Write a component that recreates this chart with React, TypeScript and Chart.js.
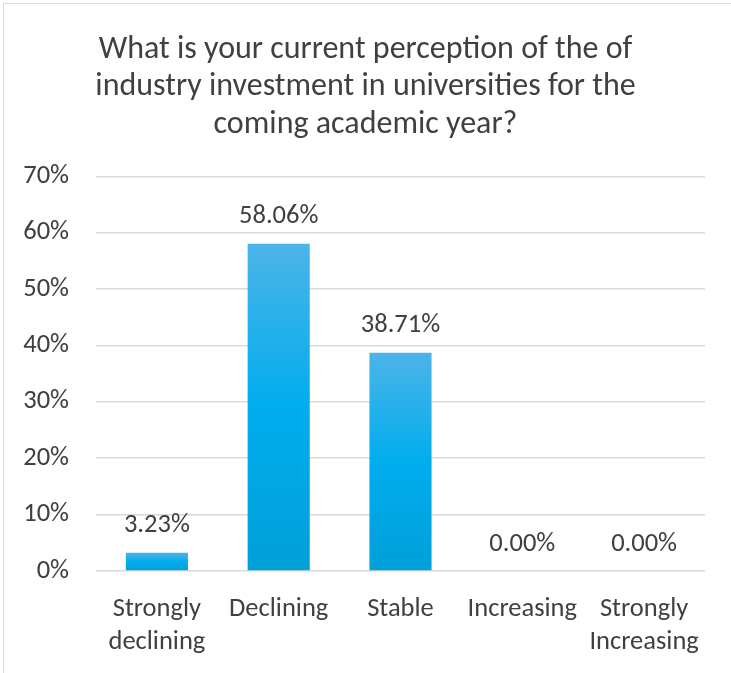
import React, { useEffect, useRef } from "react";
import { Chart, registerables } from "chart.js";

Chart.register(...registerables);

const categories: string[][] = [
  ["Strongly", "declining"],
  ["Declining"],
  ["Stable"],
  ["Increasing"],
  ["Strongly", "Increasing"],
];
const values: number[] = [3.23, 58.06, 38.71, 0.0, 0.0];
const titleLines: string[] = [
  "What is your current perception of the of",
  "industry investment in universities for the",
  "coming academic year?",
];
const yMax = 70;
const yStep = 10;

const FONT = "Calibri, Carlito, Lato, 'Open Sans', sans-serif";
const TEXT = "#404040";
const LABEL_SIZE = 26.5;

const dataLabelPlugin = {
  id: "dataLabels",
  afterDatasetsDraw(chart: any) {
    const ctx = chart.ctx;
    const meta = chart.getDatasetMeta(0);
    ctx.save();
    ctx.font = `${LABEL_SIZE}px ${FONT}`;
    ctx.fillStyle = TEXT;
    ctx.textAlign = "center";
    ctx.textBaseline = "middle";
    meta.data.forEach((bar: any, i: number) => {
      const v = chart.data.datasets[0].data[i] as number;
      ctx.fillText(v.toFixed(2) + "%", bar.x, bar.y - 27);
    });
    ctx.restore();
  },
};

export default function App() {
  const ref = useRef<HTMLCanvasElement | null>(null);

  useEffect(() => {
    if (!ref.current) return;
    const chart = new Chart(ref.current, {
      type: "bar",
      data: {
        labels: categories,
        datasets: [
          {
            data: values,
            categoryPercentage: 1,
            barPercentage: 0.51,
            backgroundColor: (c: any) => {
              const ch = c.chart;
              if (!ch.chartArea || !ch.scales?.y) return "#00adee";
              const ys = ch.scales.y;
              const top = ys.getPixelForValue(c.raw);
              const bottom = ys.getPixelForValue(0);
              if (bottom - top < 1) return "#00adee";
              const g = ch.ctx.createLinearGradient(0, top, 0, bottom);
              g.addColorStop(0, "#4cb4e8");
              g.addColorStop(0.5, "#00adee");
              g.addColorStop(1, "#00a0d9");
              return g;
            },
          },
        ],
      },
      options: {
        animation: false,
        responsive: false,
        maintainAspectRatio: false,
        layout: { padding: { left: 0, right: 0, top: 0, bottom: 0 } },
        plugins: {
          legend: { display: false },
          tooltip: { enabled: false },
          title: {
            display: true,
            text: titleLines,
            color: TEXT,
            font: { family: FONT, size: 32, weight: "normal", lineHeight: 1.17 },
            padding: { top: 31, bottom: 33 },
          },
        },
        scales: {
          x: {
            afterFit: (s: any) => {
              s.height = 102;
            },
            grid: { display: false },
            border: { display: false },
            ticks: {
              color: TEXT,
              font: { family: FONT, size: LABEL_SIZE, lineHeight: 1.25 },
              padding: 14,
              maxRotation: 0,
              autoSkip: false,
            },
          },
          y: {
            min: 0,
            max: yMax,
            afterFit: (s: any) => {
              s.width = 96;
            },
            grid: { color: "#d9d9d9", lineWidth: 1.5, drawTicks: false },
            border: { display: false },
            ticks: {
              stepSize: yStep,
              color: TEXT,
              padding: 27,
              font: { family: FONT, size: LABEL_SIZE },
              callback: (v: any) => v + "%",
            },
          },
          yRightSpace: {
            type: "linear",
            position: "right",
            display: true,
            afterFit: (s: any) => {
              s.width = 26;
            },
            grid: { display: false },
            border: { display: false },
            ticks: { display: false },
          },
        },
      },
      plugins: [dataLabelPlugin],
    });
    return () => chart.destroy();
  }, []);

  return (
    <div style={{ position: "absolute", left: 0, top: 0, width: 731, height: 673, background: "#fff", overflow: "hidden" }}>
      <div
        style={{
          position: "absolute",
          left: 3,
          top: 3,
          width: 740,
          height: 700,
          border: "1.5px solid #d9d9d9",
          boxSizing: "border-box",
        }}
      />
      <canvas ref={ref} width={731} height={673} style={{ position: "absolute", left: 0, top: 0, width: 731, height: 673 }} />
    </div>
  );
}
